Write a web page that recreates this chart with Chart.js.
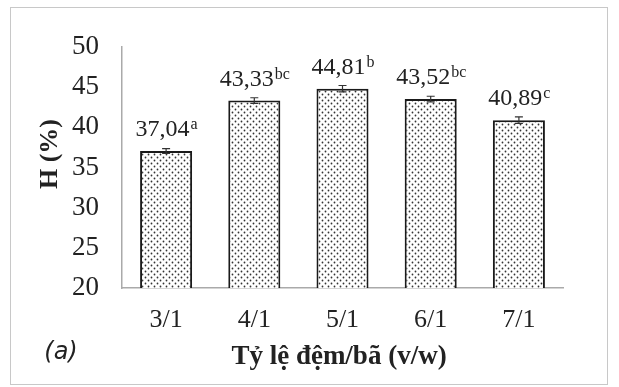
<!DOCTYPE html>
<html>
<head>
<meta charset="utf-8">
<script src="https://cdn.jsdelivr.net/npm/chart.js@4.4.1/dist/chart.umd.min.js"></script>
<style>
  html, body { margin: 0; padding: 0; background: #fff; }
  #wrap { width: 619px; height: 387px; }
</style>
</head>
<body>
<div id="wrap"><canvas id="c" width="619" height="387"></canvas></div>
<script>
// Buffer/residue ratio and yield H (%)
const ratios = ["3/1", "4/1", "5/1", "6/1", "7/1"];
const yieldH = [37.04, 43.33, 44.81, 43.52, 40.89];
const errH = [0.30, 0.35, 0.40, 0.35, 0.40];
const groups = ["a", "bc", "b", "bc", "c"];
const yTicks = [20, 25, 30, 35, 40, 45, 50];

const SERIF = "'Liberation Serif', 'Times New Roman', serif";
const INK = '#222';

// dotted fill for the bars
function dotPattern() {
  const p = document.createElement('canvas');
  p.width = 6; p.height = 6;
  const g = p.getContext('2d');
  g.fillStyle = '#fff';
  g.fillRect(0, 0, 6, 6);
  g.fillStyle = '#333';
  g.beginPath(); g.arc(1.5, 1.5, 0.9, 0, Math.PI * 2); g.fill();
  g.beginPath(); g.arc(4.5, 4.5, 0.9, 0, Math.PI * 2); g.fill();
  return g.createPattern(p, 'repeat');
}

const decorations = {
  id: 'decorations',
  beforeDraw(chart) {
    const ctx = chart.ctx;
    ctx.save();
    ctx.fillStyle = '#fff';
    ctx.fillRect(0, 0, chart.width, chart.height);
    ctx.strokeStyle = '#c8c8c8';
    ctx.lineWidth = 1;
    ctx.strokeRect(10.5, 7.5, 597, 377);
    ctx.restore();
  },
  afterDatasetsDraw(chart) {
    const ctx = chart.ctx;
    const meta = chart.getDatasetMeta(0);
    const y = chart.scales.y;
    ctx.save();
    meta.data.forEach((bar, i) => {
      const v = yieldH[i];
      const e = errH[i];
      const x = bar.x;
      const yTop = y.getPixelForValue(v + e);
      const yBot = y.getPixelForValue(v - e);
      // error bar
      ctx.strokeStyle = '#333';
      ctx.lineWidth = 1.2;
      ctx.beginPath();
      ctx.moveTo(x, yTop); ctx.lineTo(x, yBot);
      ctx.moveTo(x - 4, yTop); ctx.lineTo(x + 4, yTop);
      ctx.moveTo(x - 4, yBot); ctx.lineTo(x + 4, yBot);
      ctx.stroke();
      // value label with group letter
      const txt = v.toFixed(2).replace('.', ',');
      ctx.font = '24px ' + SERIF;
      const w1 = ctx.measureText(txt).width;
      ctx.font = '16px ' + SERIF;
      const w2 = ctx.measureText(groups[i]).width;
      const start = x - (w1 + w2) / 2;
      const base = y.getPixelForValue(v) - 15;
      ctx.fillStyle = INK;
      ctx.textBaseline = 'alphabetic';
      ctx.textAlign = 'left';
      ctx.font = '24px ' + SERIF;
      ctx.fillText(txt, start, base);
      ctx.font = '16px ' + SERIF;
      ctx.fillText(groups[i], start + w1 + 1, base - 7);
    });
    // axis titles
    ctx.fillStyle = INK;
    ctx.textAlign = 'center';
    ctx.textBaseline = 'middle';
    ctx.font = 'bold 27px ' + SERIF;
    ctx.fillText('Tỷ lệ đệm/bã (v/w)', 339, 357);
    ctx.save();
    ctx.translate(50, 154);
    ctx.rotate(-Math.PI / 2);
    ctx.font = 'bold 26px ' + SERIF;
    ctx.fillText('H (%)', 0, 0);
    ctx.restore();
    // panel tag
    ctx.font = 'oblique 24px "DejaVu Sans", sans-serif';
    ctx.fillText('(a)', 61, 353);
    ctx.restore();
  }
};

new Chart(document.getElementById('c'), {
  type: 'bar',
  data: {
    labels: ratios,
    datasets: [{
      data: yieldH,
      backgroundColor: dotPattern(),
      borderColor: '#1a1a1a',
      borderWidth: 2,
      borderSkipped: 'bottom',
      categoryPercentage: 1,
      barPercentage: 0.59
    }]
  },
  options: {
    responsive: false,
    animation: false,
    devicePixelRatio: 1,
    layout: { padding: { top: 47, right: 56, left: 20, bottom: 20 } },
    plugins: { legend: { display: false }, tooltip: { enabled: false } },
    scales: {
      x: {
        grid: { display: false, drawTicks: false },
        border: { display: true, color: '#aaa', width: 1.5 },
        ticks: { color: INK, font: { family: SERIF, size: 26 }, padding: 17 },
        afterFit(s) { s.height = 79; }
      },
      y: {
        min: 20, max: 50,
        afterBuildTicks(s) { s.ticks = yTicks.map(v => ({ value: v })); },
        grid: { display: false, drawTicks: false },
        border: { display: true, color: '#aaa', width: 1.5 },
        ticks: { color: INK, font: { family: SERIF, size: 27 }, padding: 23 },
        afterFit(s) { s.width = 102; }
      }
    }
  },
  plugins: [decorations]
});
</script>
</body>
</html>
